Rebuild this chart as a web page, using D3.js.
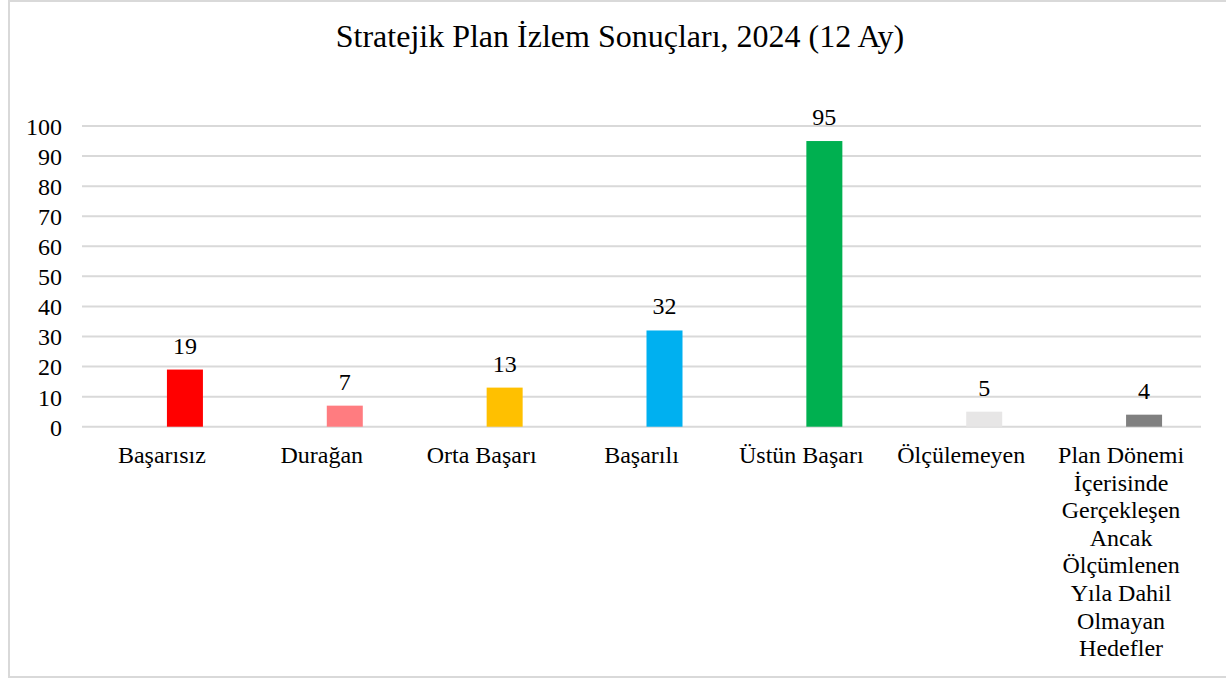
<!DOCTYPE html>
<html><head><meta charset="utf-8">
<script src="https://cdn.jsdelivr.net/npm/d3@7"></script>
<style>body{margin:0;background:#fff}svg{display:block}text{font-family:"Liberation Serif","Times New Roman",serif;fill:#000}</style>
</head><body>
<svg id="c" width="1226" height="680"></svg>
<script>
const title = "Stratejik Plan İzlem Sonuçları, 2024 (12 Ay)";
const categories = ["Başarısız","Durağan","Orta Başarı","Başarılı","Üstün Başarı","Ölçülemeyen","Plan Dönemi İçerisinde Gerçekleşen Ancak Ölçümlenen Yıla Dahil Olmayan Hedefler"];
const categoryLines = [["Başarısız"],["Durağan"],["Orta Başarı"],["Başarılı"],["Üstün Başarı"],["Ölçülemeyen"],["Plan Dönemi","İçerisinde","Gerçekleşen","Ancak","Ölçümlenen","Yıla Dahil","Olmayan","Hedefler"]];
const values = [19,7,13,32,95,5,4];
const colors = ["#ff0000","#ff7c80","#ffc000","#00b0f0","#00b050","#e7e6e6","#808080"];
const yTicks = [0,10,20,30,40,50,60,70,80,90,100];

const svg = d3.select("#c");
svg.append("rect").attr("x",9).attr("y",1).attr("width",1240).attr("height",676)
  .attr("fill","none").attr("stroke","#d9d9d9").attr("stroke-width",2);

const x = d3.scaleBand().domain(categories).range([82,1201]);
const y = d3.scaleLinear().domain([0,100]).range([426.7,126]);

svg.append("text").attr("x",620).attr("y",47).attr("text-anchor","middle")
  .style("font-size","32px").text(title);

const g = svg.append("g");
g.selectAll("line.grid").data(yTicks).enter().append("line")
  .attr("x1",82).attr("x2",1201).attr("y1",d=>y(d)).attr("y2",d=>y(d))
  .attr("stroke","#d9d9d9").attr("stroke-width",2);

const yAxis = d3.axisLeft(y).tickValues(yTicks).tickSize(0).tickPadding(0);
const ya = svg.append("g").attr("transform","translate(62,0)").call(yAxis);
ya.select(".domain").remove();
ya.selectAll("text").style("font-size","24px").style("font-family",'"Liberation Serif",serif').attr("dy","0.35em");

const bw = 36, off = 5;
svg.selectAll("rect.bar").data(values).enter().append("rect")
  .attr("x",(d,i)=>x(categories[i])+x.bandwidth()/2+off)
  .attr("y",d=>y(d)).attr("width",bw).attr("height",d=>y(0)-y(d))
  .attr("fill",(d,i)=>colors[i]);

svg.selectAll("text.val").data(values).enter().append("text")
  .attr("x",(d,i)=>x(categories[i])+x.bandwidth()/2+off+bw/2)
  .attr("y",d=>y(d)-16).attr("text-anchor","middle").style("font-size","24px").text(d=>d);

categoryLines.forEach((lines,i)=>{
  const cx = x(categories[i])+x.bandwidth()/2;
  const t = svg.append("text").attr("text-anchor","middle").style("font-size","24px")
    .attr("x",cx).attr("y",463);
  lines.forEach((l,j)=>t.append("tspan").attr("x",cx).attr("y",463+j*27.6).text(l));
});
</script>
</body></html>
